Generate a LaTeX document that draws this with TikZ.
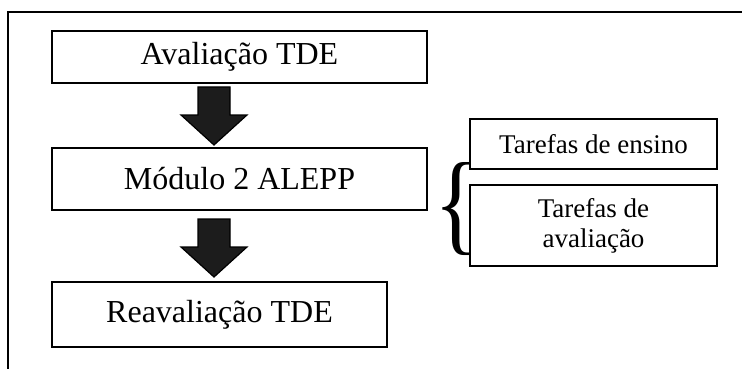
\documentclass[tikz,border=0pt]{standalone}
\usepackage{fontspec}
\setmainfont{Liberation Serif}
\definecolor{arrowfill}{HTML}{1C1C1C}

\begin{document}
\begin{tikzpicture}[x=1pt,y=-1pt,
	box/.style={draw,line width=2pt,rectangle,inner sep=0pt,
		font=\fontsize{32}{38}\selectfont},
	task/.style={box,align=center,font=\fontsize{27}{30}\selectfont},
	blockarrow/.style={draw,line width=1.2pt,fill=arrowfill,line join=miter}]
		\useasboundingbox (0,0) rectangle (742,369);
		\draw[line width=2pt] (742,12) -- (8,12) -- (8,369);
		\node[box,minimum width=375pt,minimum height=52pt](aval) at (239.5,57) {Avaliação TDE};
		\node[box,minimum width=375pt,minimum height=62pt](mod) at (239.5,179) {Módulo 2 ALEPP};
		\node[box,minimum width=335pt,minimum height=65pt](reav) at (219.5,314.5) {Reavaliação TDE};
		\node[task,minimum width=247pt,minimum height=50pt](ens) at (593.5,144) {Tarefas de ensino};
		\node[task,minimum width=247pt,minimum height=81pt](tav) at (593.5,225.5) {Tarefas de\\avaliação};
		% block arrows between the stages
		\coordinate (a1) at (214,87);
		\coordinate (a2) at (214,219);
		\foreach \c in {a1,a2}
			\draw[blockarrow] (\c) ++(-16,0) -- ++(0,28) -- ++(-17,0) -- ++(33,30)
				-- ++(33,-30) -- ++(-17,0) -- ++(0,-28) -- cycle;
		% brace grouping the two task boxes
		\coordinate (bmid) at (470,209.5);
		\node[inner sep=0pt,anchor=east](br) at ([xshift=9pt]bmid)
			{\resizebox{44pt}{78pt}{\{}};
		\end{tikzpicture}
\end{document}
